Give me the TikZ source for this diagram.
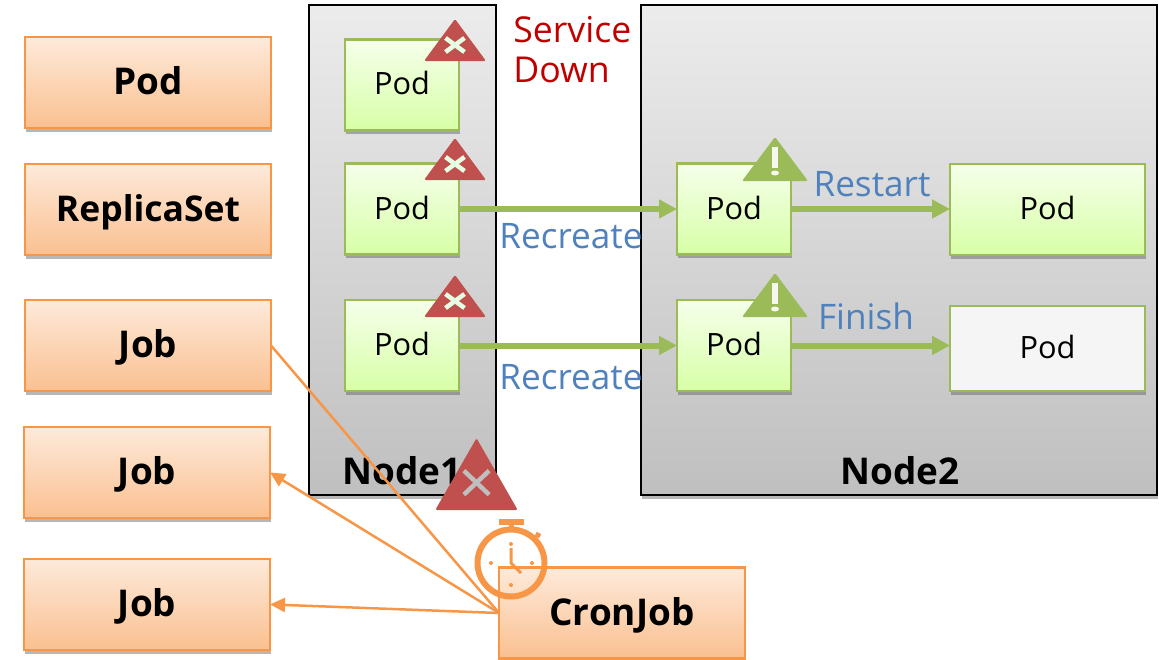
\documentclass[tikz,border=0pt]{standalone}
\usepackage{fontspec}
\setmainfont{Open Sans}
\usetikzlibrary{positioning, shadows, arrows.meta}

\definecolor{jobline}{HTML}{F79646}
\definecolor{podline}{HTML}{9BBB59}
\definecolor{alertred}{HTML}{C0504D}
\definecolor{labelblue}{HTML}{4F81BD}
\definecolor{downred}{HTML}{C00000}

\tikzset{
    softshadow/.style={drop shadow={shadow xshift=0.02cm, shadow yshift=-0.08cm, opacity=0.4, fill=black!70}},
    hostbox/.style={draw=black, line width=0.04cm, top color=gray!15, bottom color=gray!50, softshadow},
    jobbox/.style={draw=jobline, line width=0.05cm, top color=jobline!20, bottom color=jobline!60,
        minimum width=4.92cm, minimum height=1.82cm, outer sep=0pt, softshadow,
        text height=0.6cm, text depth=0.1cm,
        font=\fontsize{21}{24}\selectfont\bfseries},
    podbox/.style={draw=podline, line width=0.05cm, top color=green!45!yellow!8, bottom color=green!45!yellow!35!white,
        minimum width=2.28cm, minimum height=1.82cm, outer sep=0pt, softshadow,
        text height=0.45cm, text depth=0.05cm,
        font=\fontsize{17.5}{21}\selectfont},
    podarrow/.style={draw=podline, line width=0.12cm, -{Triangle[length=0.36cm, width=0.36cm]}},
    joblink/.style={draw=jobline, line width=0.05cm},
    steplabel/.style={text=labelblue, font=\fontsize{20}{24}\selectfont, inner sep=0pt},
    pics/failmark/.style={code={
        \fill[alertred, rounded corners=0.03cm] (-31,0) -- (0,-42) -- (31,0) -- cycle;
        \draw[#1, line width=0.09cm] (-9.5,-9) -- (9.5,-23) (-9.5,-23) -- (9.5,-9);
    }},
    pics/warnmark/.style={code={
        \fill[podline, rounded corners=0.03cm] (-33,0) -- (0,-44) -- (33,0) -- cycle;
        \fill[white!90!podline] (-3,-34) rectangle (3,-13);
        \fill[white!90!podline] (0,-8) ellipse (4 and 2.5);
    }},
}

\begin{document}
\begin{tikzpicture}[x=0.02cm, y=-0.02cm, node distance=0.72cm]
    \useasboundingbox (0,0) rectangle (1159,659);

    % The hosts
    \node[hostbox, minimum width=3.74cm, minimum height=9.8cm] (node1) at (402.5,250) {};
    \node[hostbox, minimum width=10.32cm, minimum height=9.8cm] (node2) at (899,250) {};
    \node[font=\fontsize{21}{24}\selectfont\bfseries] (node1text) at (402,471) {Node1};
    \node[font=\fontsize{21}{24}\selectfont\bfseries] (node2text) at (900,471) {Node2};

    % The controllers
    \node[jobbox] (pod) at (148,82.5) {Pod};
    \node[jobbox, below=of pod, font=\fontsize{20.2}{24}\selectfont\bfseries] (replicaset) {ReplicaSet};
    \node[jobbox, below=0.9cm of replicaset] (job1) {Job};
    \node[jobbox, xshift=-0.02cm, below=of job1] (job2) {Job};
    \node[jobbox, below=0.82cm of job2] (job3) {Job};
    \node[jobbox] (cronjob) at (622,613) {CronJob};

    % The pods
    \node[podbox] (pod1) at (402,85) {Pod};
    \node[podbox] (pod2) at (402,209) {Pod};
    \node[podbox] (pod3) at (402,345.5) {Pod};
    \node[podbox] (pod4) at (734,209) {Pod};
    \node[podbox] (pod5) at (734,345.5) {Pod};
    \node[podbox, minimum width=3.9cm] (pod6) at (1047.5,209.5) {Pod};
    \node[podbox, minimum width=3.9cm, minimum height=1.7cm, top color=gray!8, bottom color=gray!8] (pod7) at (1047.5,348.5) {Pod};

    % The moves between pods
    \draw[podarrow] (pod2) -- (pod4);
    \draw[podarrow] (pod3) -- (pod5);
    \draw[podarrow] (pod4) -- (pod6.west |- pod4);
    \draw[podarrow] (pod5) -- (pod7.west |- pod5);

    \node[steplabel] (recreate1) at (571,236) {Recreate};
    \node[steplabel] (recreate2) at (571,377) {Recreate};
    \node[steplabel] (restart) at (872,184) {Restart};
    \node[steplabel] (finish) at (866,316) {Finish};
    \node[text=downred, font=\fontsize{20.3}{22.5}\selectfont, align=left, inner sep=0pt, anchor=north west] (down) at (513,16) {Service\\Down};

    % The marks
    \pic at (455,61) {failmark={green!10!white}};
    \pic at (455,180) {failmark={green!10!white}};
    \pic at (455,317) {failmark={green!10!white}};
    \pic at (775,181) {warnmark};
    \pic at (775,317) {warnmark};
    \pic[xscale=1.33, yscale=1.71] at (476.5,510) {failmark={gray!50}};

    % The CronJob and what it starts
    \draw[joblink] (cronjob.west) -- (job1.east);
    \draw[joblink, -{Triangle[length=0.3cm, width=0.28cm]}] (cronjob.west) -- (job2.east);
    \draw[joblink, -{Triangle[length=0.3cm, width=0.28cm]}] (cronjob.west) -- (job3.east);

    \node[circle, draw=jobline, line width=0.12cm, minimum size=1.34cm, inner sep=0pt] (clock) at (511,563) {};
    \draw[jobline, line width=0.12cm] (499,522) -- (524,522);
    \draw[jobline, line width=0.1cm] (511,524) -- (clock.north);
    \draw[jobline, line width=0.1cm] (clock.45) -- (539,533);
    \draw[jobline, line width=0.06cm] (511,548) -- (511,563) -- (521,573);
    \foreach \dotx/\doty in {511/544, 511/585, 491/563, 532/563}
        \fill[jobline] (\dotx,\doty) circle (2);
\end{tikzpicture}
\end{document}
